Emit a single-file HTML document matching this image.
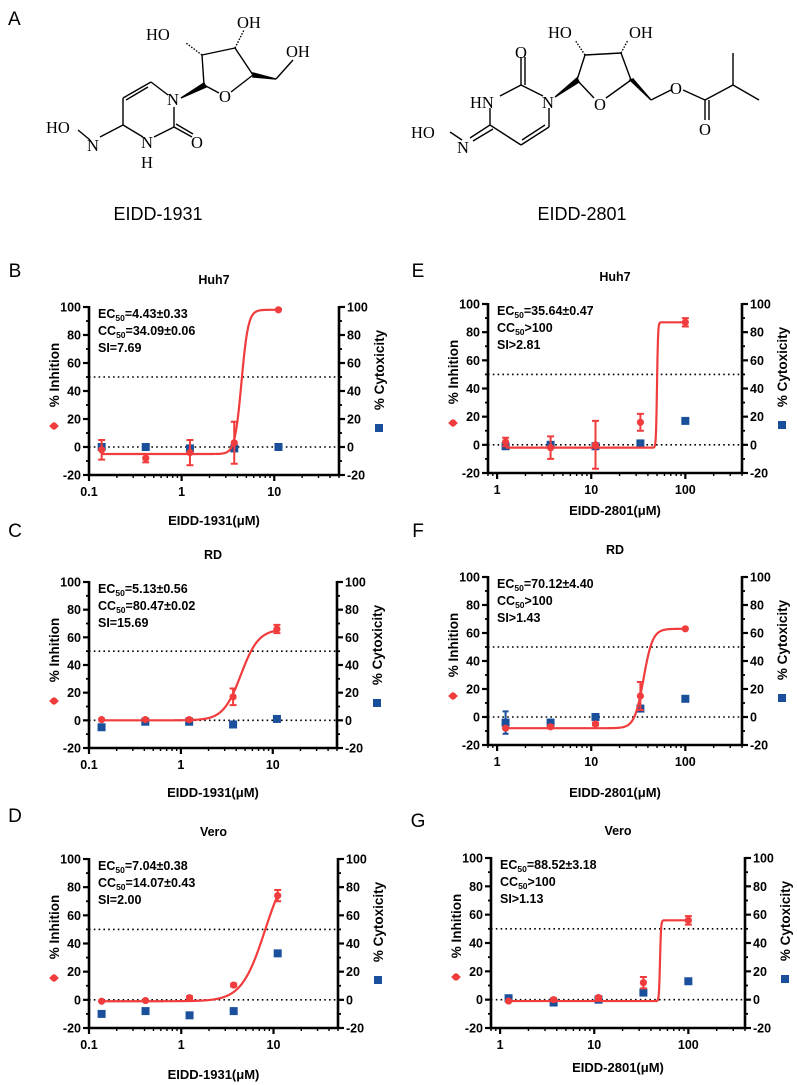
<!DOCTYPE html>
<html><head><meta charset="utf-8">
<style>
html,body{margin:0;padding:0;background:#fff;}
svg{display:block;}
.t{font-family:"Liberation Sans",Arial,sans-serif;}
.b{font-family:"Liberation Sans",Arial,sans-serif;font-weight:bold;}
.chem{font-family:"Liberation Serif","Times New Roman",serif;font-size:16.5px;fill:#000;}
</style></head>
<body>
<svg id="fig" width="797" height="1085" viewBox="0 0 797 1085" xmlns="http://www.w3.org/2000/svg">
  <text class="t" x="8" y="25" font-size="19">A</text>
  <g stroke="#000" stroke-width="1.4" fill="none">
    <line x1="204" y1="85" x2="202" y2="55"/>
    <line x1="202" y1="55" x2="235" y2="48"/>
    <line x1="235" y1="48" x2="253" y2="75"/>
    <line x1="253" y1="75" x2="231" y2="92"/>
    <line x1="204" y1="85" x2="219" y2="93"/>
    <polygon points="253,73 253,77 276,79" fill="#000"/>
    <line x1="276" y1="79" x2="293" y2="60"/>
    <polygon points="204,83 206,87 181,98" fill="#000"/>
    <line x1="202" y1="55" x2="186" y2="43" stroke-dasharray="1.5,1.5"/>
    <line x1="235" y1="48" x2="244" y2="30" stroke-dasharray="1.5,1.5"/>
    <line x1="168" y1="95" x2="151" y2="82"/>
    <line x1="151" y1="82" x2="123" y2="98"/>
    <line x1="148" y1="87" x2="126" y2="100"/>
    <line x1="123" y1="98" x2="123" y2="125"/>
    <line x1="123" y1="125" x2="143" y2="137"/>
    <line x1="154" y1="137" x2="174" y2="127"/>
    <line x1="174" y1="127" x2="174" y2="107"/>
    <line x1="174" y1="127" x2="192" y2="137"/>
    <line x1="176" y1="124" x2="193" y2="134"/>
    <line x1="123" y1="125" x2="100" y2="137"/>
    <line x1="90" y1="140" x2="78" y2="130"/>
  </g>
  <g class="chem">
    <text x="146" y="40">HO</text><text x="237" y="28">OH</text><text x="286" y="57">OH</text>
    <text x="167" y="105">N</text><text x="219" y="102">O</text>
    <text x="46" y="133">HO</text><text x="87" y="151">N</text><text x="141" y="148">N</text>
    <text x="141" y="168">H</text><text x="191" y="148">O</text>
  </g>
  <text class="t" x="158" y="220" font-size="18" text-anchor="middle">EIDD-1931</text>

  <g stroke="#000" stroke-width="1.4" fill="none">
    <line x1="577" y1="80" x2="585" y2="55"/>
    <line x1="585" y1="55" x2="621" y2="53"/>
    <line x1="621" y1="53" x2="631" y2="80"/>
    <line x1="631" y1="80" x2="606" y2="98"/>
    <line x1="577" y1="80" x2="594" y2="98"/>
    <polygon points="577,78 579,82 555,97" fill="#000"/>
    <polygon points="630,80 633,79 651,100" fill="#000"/>
    <line x1="651" y1="100" x2="671" y2="90"/>
    <line x1="683" y1="90" x2="705" y2="100"/>
    <line x1="705" y1="100" x2="705" y2="120"/>
    <line x1="709" y1="100" x2="709" y2="120"/>
    <line x1="705" y1="100" x2="733" y2="85"/>
    <line x1="733" y1="85" x2="733" y2="53"/>
    <line x1="733" y1="85" x2="759" y2="100"/>
    <line x1="585" y1="55" x2="575" y2="40" stroke-dasharray="1.5,1.5"/>
    <line x1="621" y1="53" x2="628" y2="40" stroke-dasharray="1.5,1.5"/>
    <line x1="543" y1="96" x2="521" y2="85"/>
    <line x1="521" y1="85" x2="521" y2="57"/>
    <line x1="525" y1="85" x2="525" y2="57"/>
    <line x1="521" y1="85" x2="500" y2="96"/>
    <line x1="490" y1="108" x2="490" y2="125"/>
    <line x1="490" y1="125" x2="521" y2="145"/>
    <line x1="521" y1="145" x2="549" y2="127"/>
    <line x1="522" y1="140" x2="545" y2="125"/>
    <line x1="549" y1="127" x2="549" y2="108"/>
    <line x1="490" y1="125" x2="470" y2="138"/>
    <line x1="493" y1="129" x2="473" y2="141"/>
    <line x1="462" y1="140" x2="450" y2="132"/>
  </g>
  <g class="chem">
    <text x="548" y="38">HO</text><text x="629" y="38">OH</text><text x="515" y="58">O</text>
    <text x="470" y="108">HN</text><text x="542" y="108">N</text><text x="594" y="110">O</text>
    <text x="411" y="138">HO</text><text x="457" y="153">N</text>
    <text x="670" y="94">O</text><text x="699" y="135">O</text>
  </g>
  <text class="t" x="582" y="220" font-size="18" text-anchor="middle">EIDD-2801</text>
</svg>

<script>
// ---- data ----
const xLeft = [0.137, 0.41, 1.23, 3.7, 11.1];
const xRight = [1.23, 3.7, 11.1, 33.3, 100];
const inhB = [-2, -8, -4, 3, 98];        const errB = [7, 3, 9, 15, 0];
const cytB = [0, 0, -1, -1, 0];
const inhC = [0.5, 0.5, 0.5, 17, 66];    const errC = [0, 0, 1, 6, 3];
const cytC = [-5, -1, -1, -3, 1];
const inhD = [-1, -0.5, 1.5, 10.5, 74];  const errD = [0, 0, 1, 1, 4];
const cytD = [-10, -8, -11, -8, 33];
const inhE = [2, -2, 0, 16, 87];         const errE = [3, 8, 17, 6, 3];
const cytE = [-1, 0, -1, 1, 17];
const inhF = [-8, -7, -5, 15, 63];       const errF = [0, 1, 1, 10, 0];
const cytF = [-4, -4, 0, 6, 13];         const cerrF = [8, 2, 2, 2, 0];
const inhG = [-1, 0, 1.5, 12, 56];       const errG = [0, 1, 1, 4, 3];
const cytG = [1, -2, 0, 5, 13];
// fit parameters: bottom, top, EC, hill
const fitB = [-5, 98, 4.43, 12];
const fitC = [0, 66, 4.5, 4.5];
const fitD = [-1, 100, 8.1, 3.4];
const fitE = [-2, 87, 50, 80];
const fitF = [-8, 63, 36, 9];
const fitG = [-1, 56, 50, 80];
const yTicks = [-20, 0, 20, 40, 60, 80, 100];
const xTicksLeft = [0.1, 1, 10];
const xTicksRight = [1, 10, 100];
const titles = ["Huh7", "RD", "Vero", "Huh7", "RD", "Vero"];
const notes = [
  ["4.43±0.33", "34.09±0.06", "SI=7.69"],
  ["5.13±0.56", "80.47±0.02", "SI=15.69"],
  ["7.04±0.38", "14.07±0.43", "SI=2.00"],
  ["35.64±0.47", ">100", "SI>2.81"],
  ["70.12±4.40", ">100", "SI>1.43"],
  ["88.52±3.18", ">100", "SI>1.13"]
];

const NS = "http://www.w3.org/2000/svg";
const svg = document.getElementById('fig');
function mk(tag, attrs, parent) {
  const e = document.createElementNS(NS, tag);
  for (const k in attrs) e.setAttribute(k, attrs[k]);
  (parent || svg).appendChild(e);
  return e;
}
const RED = '#f03c3c', BLUE = '#1a4f9c';

const panels = [
  {L:'B', lx:15, ly:277, x0:89, x1:339, top:307, bot:475, dom:[0.1,50], xs:xLeft, inh:inhB, err:errB, cyt:cytB, cerr:null, fit:fitB, xt:xTicksLeft, xl:'EIDD-1931(μM)', xlY:525},
  {L:'C', lx:15, ly:537, x0:89, x1:337, top:582, bot:748, dom:[0.1,50], xs:xLeft, inh:inhC, err:errC, cyt:cytC, cerr:null, fit:fitC, xt:xTicksLeft, xl:'EIDD-1931(μM)', xlY:797},
  {L:'D', lx:15, ly:822, x0:89, x1:338, top:859, bot:1028, dom:[0.1,50], xs:xLeft, inh:inhD, err:errD, cyt:cytD, cerr:null, fit:fitD, xt:xTicksLeft, xl:'EIDD-1931(μM)', xlY:1079},
  {L:'E', lx:418, ly:277, x0:488, x1:742, top:304, bot:473, dom:[0.8,400], xs:xRight, inh:inhE, err:errE, cyt:cytE, cerr:null, fit:fitE, xt:xTicksRight, xl:'EIDD-2801(μM)', xlY:515},
  {L:'F', lx:418, ly:537, x0:488, x1:742, top:577, bot:745, dom:[0.8,400], xs:xRight, inh:inhF, err:errF, cyt:cytF, cerr:cerrF, fit:fitF, xt:xTicksRight, xl:'EIDD-2801(μM)', xlY:797},
  {L:'G', lx:418, ly:827, x0:491, x1:745, top:858, bot:1028, dom:[0.8,400], xs:xRight, inh:inhG, err:errG, cyt:cytG, cerr:null, fit:fitG, xt:xTicksRight, xl:'EIDD-2801(μM)', xlY:1072}
];

panels.forEach((p, i) => {
  const g = mk('g', {});
  
  
  const lo = Math.log10(p.dom[0]), hi = Math.log10(p.dom[1]);
  const X = v => p.x0 + (Math.log10(v) - lo) / (hi - lo) * (p.x1 - p.x0);
  const Y = v => p.bot - (v + 20) / 120 * (p.bot - p.top);
  const cx = (p.x0 + p.x1) / 2;

  const lab = mk('text', {x:p.lx, y:p.ly, 'font-size':19, 'text-anchor':'middle', class:'t'}, g);
  lab.textContent = p.L;
  
  
  const tt = mk('text', {x:cx, y:p.top - 23, 'font-size':12.5, 'text-anchor':'middle', class:'b'}, g);
  tt.textContent = titles[i];
  
  

  [0, 50].forEach(v => {
    const l = mk('line', {x1:p.x0, x2:p.x1, y1:Y(v), y2:Y(v), stroke:'#000', 'stroke-width':1.6, 'stroke-dasharray':'1.6,3.2'}, g);
    
    
  });

  const ax = mk('path', {d:`M${p.x0},${p.top - 1}V${p.bot}H${p.x1}V${p.top - 1}`, fill:'none', stroke:'#000', 'stroke-width':2.6}, g);
  
  
  yTicks.forEach((v, k) => {
    const y = Y(v);
    mk('line', {x1:p.x0 - 6, x2:p.x0, y1:y, y2:y, stroke:'#000', 'stroke-width':2.2}, g);
    mk('line', {x1:p.x1, x2:p.x1 + 6, y1:y, y2:y, stroke:'#000', 'stroke-width':2.2}, g);
    if (k < yTicks.length - 1) {
      const ym = Y(v + 10);
      mk('line', {x1:p.x0 - 3, x2:p.x0, y1:ym, y2:ym, stroke:'#000', 'stroke-width':1.8}, g);
      mk('line', {x1:p.x1, x2:p.x1 + 3, y1:ym, y2:ym, stroke:'#000', 'stroke-width':1.8}, g);
    }
    const tl = mk('text', {x:p.x0 - 8, y:y + 4.5, 'font-size':12.5, 'text-anchor':'end', class:'b'}, g);
    tl.textContent = v;
    
    
    const tr = mk('text', {x:p.x1 + 8, y:y + 4.5, 'font-size':12.5, 'text-anchor':'start', class:'b'}, g);
    tr.textContent = v;
    
    
  });
  for (let d = Math.floor(lo); d <= Math.ceil(hi); d++) {
    for (let m = 1; m <= 9; m++) {
      const v = m * Math.pow(10, d);
      if (v < p.dom[0] * 0.999 || v > p.dom[1] * 1.001) continue;
      const x = X(v);
      mk('line', {x1:x, x2:x, y1:p.bot, y2:p.bot + (m === 1 ? 6 : 3), stroke:'#000', 'stroke-width':m === 1 ? 2.2 : 1.4}, g);
    }
  }
  p.xt.forEach(v => {
    const t = mk('text', {x:X(v), y:p.bot + 21, 'font-size':12.5, 'text-anchor':'middle', class:'b'}, g);
    t.textContent = v;
    
    
  });
  const xt = mk('text', {x:cx, y:p.xlY, 'font-size':13, 'text-anchor':'middle', class:'b'}, g);
  xt.textContent = p.xl;
  
  

  const ylx = p.x0 - 35, yrx = p.x1 + 40;
  const yl = mk('text', {x:ylx, y:p.top + 68, 'font-size':13.5, 'text-anchor':'middle', class:'b', transform:`rotate(-90 ${ylx} ${p.top + 68})`, dy:5}, g);
  yl.textContent = '% Inhition';
  
  
  const yr = mk('text', {x:yrx, y:p.top + 63, 'font-size':13.5, 'text-anchor':'middle', class:'b', transform:`rotate(-90 ${yrx} ${p.top + 63})`, dy:5}, g);
  yr.textContent = '% Cytoxicity';
  
  
  const lr = mk('path', {d:`M${ylx - 5},${p.top + 119}l5,-4l5,4l-5,4z`, fill:RED}, g);
  
  
  mk('circle', {cx:ylx, cy:p.top + 119, r:3.5, fill:RED}, g);
  const lb = mk('rect', {x:yrx - 4, y:p.top + 117, width:8, height:8, fill:BLUE}, g);
  
  

  const n = notes[i];
  const tx = p.x0 + 9;
  const a1 = mk('text', {x:tx, y:p.top + 11, 'font-size':12.5, class:'b'}, g);
  a1.innerHTML = 'EC<tspan font-size="8.5" dy="3">50</tspan><tspan dy="-3">=' + n[0] + '</tspan>';
  
  
  const a2 = mk('text', {x:tx, y:p.top + 28, 'font-size':12.5, class:'b'}, g);
  a2.innerHTML = 'CC<tspan font-size="8.5" dy="3">50</tspan><tspan dy="-3">' + (n[1][0] === '>' ? '' : '=') + n[1] + '</tspan>';
  
  
  const a3 = mk('text', {x:tx, y:p.top + 45, 'font-size':12.5, class:'b'}, g);
  a3.textContent = n[2];
  
  

  p.cyt.forEach((v, k) => {
    const x = X(p.xs[k]), y = Y(v);
    if (p.cerr && p.cerr[k]) {
      mk('path', {d:`M${x},${Y(v - p.cerr[k])}V${Y(v + p.cerr[k])}M${x - 3},${Y(v - p.cerr[k])}h6M${x - 3},${Y(v + p.cerr[k])}h6`, stroke:BLUE, 'stroke-width':2, fill:'none'}, g);
    }
    const r = mk('rect', {x:x - 4, y:y - 4, width:8, height:8, fill:BLUE}, g);
    
    
  });

  const [b, t, ec, h] = p.fit;
  const xa = Math.log10(p.xs[0]), xb = Math.log10(p.xs[p.xs.length - 1]);
  let d = '';
  for (let s = 0; s <= 400; s++) {
    const xv = Math.pow(10, xa + (xb - xa) * s / 400);
    const yv = b + (t - b) / (1 + Math.pow(ec / xv, h));
    d += (s ? 'L' : 'M') + X(xv).toFixed(2) + ',' + Y(yv).toFixed(2);
  }
  const c = mk('path', {d, fill:'none', stroke:RED, 'stroke-width':2.2}, g);
  
  

  p.inh.forEach((v, k) => {
    const x = X(p.xs[k]), y = Y(v), e = p.err[k];
    if (e) {
      mk('path', {d:`M${x},${Y(v - e)}V${Y(v + e)}M${x - 3.5},${Y(v - e)}h7M${x - 3.5},${Y(v + e)}h7`, stroke:RED, 'stroke-width':2, fill:'none'}, g);
    }
    const pt = mk('circle', {cx:x, cy:y, r:3.6, fill:RED}, g);
    
    
  });
});
</script>
</body></html>
